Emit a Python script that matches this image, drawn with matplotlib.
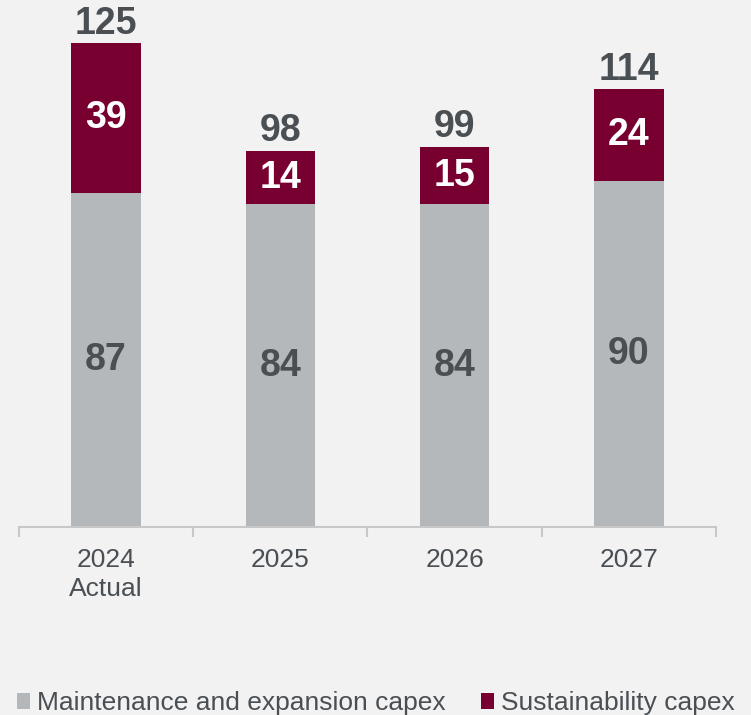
import matplotlib
matplotlib.use("Agg")
import matplotlib.pyplot as plt
from matplotlib.patches import Patch

categories = ["2024\nActual", "2025", "2026", "2027"]
maintenance = [87, 84, 84, 90]
sustainability = [39, 14, 15, 24]
totals = [125, 98, 99, 114]

BG = "#f2f2f2"
GRAY = "#b5b8bb"
MAROON = "#770030"
TEXT = "#4a4f54"
AXIS = "#c8c8c8"
FONT = "Liberation Sans"

fig = plt.figure(figsize=(7.51, 7.15), dpi=100, facecolor=BG)
ax = fig.add_axes([0.0253, 0.263, 0.928, 0.725], facecolor=BG)

x = list(range(len(categories)))
width = 0.40
ax.bar(x, maintenance, width, color=GRAY, zorder=2)
ax.bar(x, sustainability, width, bottom=maintenance, color=MAROON, zorder=2)

for i in x:
    ax.text(i, maintenance[i] / 2, f"{maintenance[i]}", ha="center", va="center",
            fontsize=27, fontweight="bold", color=TEXT, family=FONT)
    ax.text(i, maintenance[i] + sustainability[i] / 2, f"{sustainability[i]}",
            ha="center", va="center", fontsize=27, fontweight="bold",
            color="white", family=FONT)
    ax.annotate(f"{totals[i]}", (i, maintenance[i] + sustainability[i]),
                xytext=(0, 1), textcoords="offset points", ha="center", va="bottom",
                fontsize=27, fontweight="bold", color=TEXT, family=FONT)

ax.set_xlim(-0.5, len(categories) - 0.5)
ax.set_ylim(0, 135)

for side in ["top", "right", "left"]:
    ax.spines[side].set_visible(False)
ax.spines["bottom"].set_color(AXIS)
ax.spines["bottom"].set_linewidth(1.5)
ax.set_yticks([])

ax.set_xticks(x)
ax.set_xticklabels(categories, fontsize=19, color=TEXT, family=FONT, linespacing=1.3)
ax.tick_params(axis="x", which="major", length=0, pad=15)
ax.set_xticks([i - 0.5 for i in range(len(categories) + 1)], minor=True)
ax.tick_params(axis="x", which="minor", length=7, width=1.5, color=AXIS)

handles = [Patch(facecolor=GRAY, label="Maintenance and expansion capex"),
           Patch(facecolor=MAROON, label="Sustainability capex")]
fig.legend(handles=handles, loc="lower left", bbox_to_anchor=(17 / 751, 0.0),
           ncol=2, frameon=False, borderpad=0, borderaxespad=0,
           handlelength=0.5, handleheight=0.55,
           handletextpad=0.25, columnspacing=1.35,
           prop={"family": FONT, "size": 19}, labelcolor=TEXT)

fig.savefig("out.png", dpi=100, facecolor=BG)
